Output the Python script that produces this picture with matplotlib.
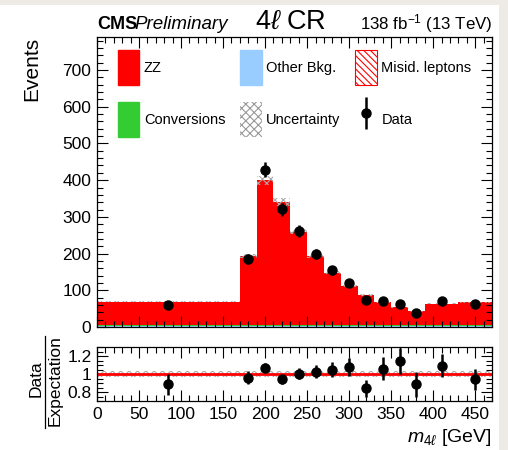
import numpy as np
import matplotlib
matplotlib.use("Agg")
import matplotlib.pyplot as plt
from matplotlib.patches import Patch, Rectangle
from matplotlib.lines import Line2D
from matplotlib.container import ErrorbarContainer
from matplotlib.legend_handler import HandlerErrorbar
from matplotlib.ticker import MultipleLocator

plt.rcParams["font.family"] = ["Liberation Sans", "DejaVu Sans"]
plt.rcParams["mathtext.fontset"] = "custom"
plt.rcParams["mathtext.rm"] = "Liberation Sans"
plt.rcParams["mathtext.it"] = "Liberation Sans:italic"
plt.rcParams["mathtext.bf"] = "Liberation Sans:bold"
plt.rcParams["hatch.linewidth"] = 0.8

# m4l binning (GeV) and per-bin yields
edges = [0, 170, 190, 210, 230, 250, 270, 290, 310, 330, 350, 370, 390, 430, 470]
zz = [62.5, 186.5, 393.5, 334.5, 253.5, 186.5, 141.5, 105.5, 80.5, 60.5, 47.5, 36.5, 57.5, 60.5]
other_bkg = [4.0, 4.0, 4.0, 4.0, 4.0, 4.0, 4.0, 4.0, 4.0, 4.0, 4.0, 4.0, 4.0, 4.0]
conversions = [0.5, 0.5, 0.5, 0.5, 0.5, 0.5, 0.5, 0.5, 0.5, 0.5, 0.5, 0.5, 0.5, 0.5]
misid = [2.0, 2.0, 2.0, 2.0, 2.0, 2.0, 2.0, 2.0, 2.0, 2.0, 2.0, 2.0, 2.0, 2.0]
rel_unc = [0.03, 0.03, 0.03, 0.03, 0.03, 0.03, 0.03, 0.03, 0.03, 0.03, 0.03, 0.03, 0.03, 0.03]
data_x = [85, 180, 200, 220, 240, 260, 280, 300, 320, 340, 360, 380, 410, 450]
data_y = [61, 185, 428, 321, 261, 198, 155, 121, 73, 71, 62, 38, 70, 63]

edges = np.array(edges, dtype=float)
zz = np.array(zz)
other_bkg = np.array(other_bkg)
conversions = np.array(conversions)
misid = np.array(misid)
rel_unc = np.array(rel_unc)
data_y = np.array(data_y, dtype=float)
data_err = np.sqrt(data_y)

RED = "#ff0000"
BLUE = "#99ccff"
GREEN = "#33cc33"

W, H = 508, 450
fig = plt.figure(figsize=(W / 100, H / 100), dpi=100)
fig.patch.set_facecolor("#eeebe6")
fig.add_artist(Rectangle((0, 0), 499 / W, 445 / H, transform=fig.transFigure,
                         facecolor="white", edgecolor="none", zorder=-10))

ax = fig.add_axes([97 / W, 1 - 327 / H, 395 / W, 290 / H])
rax = fig.add_axes([97 / W, 1 - 401 / H, 395 / W, 54 / H])

# stacked expectation
base = np.zeros_like(zz)
ax.stairs(base + other_bkg, edges, baseline=base, fill=True, color=BLUE, lw=0)
base = base + other_bkg
ax.stairs(base + conversions, edges, baseline=base, fill=True, color=GREEN, lw=0)
base = base + conversions
ax.stairs(base + misid, edges, baseline=base, fill=True, facecolor="#f4c8d8",
          edgecolor=RED, hatch="\\\\\\\\", lw=0)
base = base + misid
ax.stairs(base + zz, edges, baseline=base, fill=True, color=RED, lw=0)
total = base + zz

# uncertainty on the expectation
ax.stairs(total * (1 + rel_unc), edges, baseline=total * (1 - rel_unc), fill=True,
          facecolor="none", edgecolor="#aaaaaa", hatch="xxxx", lw=0)

data_cont = ax.errorbar(data_x, data_y, yerr=data_err, fmt="o", color="black",
                        ms=6.5, elinewidth=1.8, capsize=0, zorder=5)

ax.set_xlim(0, 470)
ax.set_ylim(0, 790)
ax.yaxis.set_major_locator(MultipleLocator(100))
ax.yaxis.set_minor_locator(MultipleLocator(20))
ax.xaxis.set_major_locator(MultipleLocator(50))
ax.xaxis.set_minor_locator(MultipleLocator(10))
ax.tick_params(labelbottom=False)
ax.set_ylabel("Events", loc="top", fontsize=15, labelpad=15)

# ratio panel
rax.stairs(1 + rel_unc, edges, baseline=1 - rel_unc, fill=True,
           facecolor="none", edgecolor="#aaaaaa", hatch="xxxx", lw=0)
rax.axhline(1.0, color=RED, lw=2)
rax.errorbar(data_x, data_y / total, yerr=data_err / total, fmt="o",
             color="black", ms=6.5, elinewidth=1.8, capsize=0, zorder=5)
rax.set_xlim(0, 470)
rax.set_ylim(0.7, 1.3)
rax.set_yticks([0.8, 1.0, 1.2])
rax.set_yticklabels(["0.8", "1", "1.2"])
rax.yaxis.set_minor_locator(MultipleLocator(0.05))
rax.xaxis.set_major_locator(MultipleLocator(50))
rax.xaxis.set_minor_locator(MultipleLocator(10))

for a in (ax, rax):
    a.tick_params(which="both", direction="in", top=True, right=True,
                  labelsize=12.5, pad=4)
    a.tick_params(which="major", length=8, width=0.8)
    a.tick_params(which="minor", length=4, width=0.8)
    for s in a.spines.values():
        s.set_linewidth(0.9)

# ratio axis title drawn as a stacked fraction
fig.text(36 / W, 1 - 379 / H, "Data", rotation=90, ha="center", va="center",
         fontsize=12.5)
fig.text(55 / W, 1 - 381 / H, "Expectation", rotation=90, ha="center", va="center",
         fontsize=12.5)
fig.add_artist(Line2D([44.5 / W, 44.5 / W], [1 - 336 / H, 1 - 428 / H],
                      transform=fig.transFigure, color="black", lw=0.9))
fig.text(492 / W, 1 - 437 / H, r"$m_{4\ell}$ [GeV]", ha="right", va="center",
         fontsize=14)

# header
fig.text(97 / W, 1 - 29 / H, "CMS", fontsize=13, fontweight="bold", va="baseline")
fig.text(134 / W, 1 - 29 / H, "Preliminary", fontsize=13.5, style="italic",
         va="baseline")
fig.text(291 / W, 1 - 29 / H, r"4$\ell$ CR", fontsize=19.5, ha="center",
         va="baseline")
fig.text(492 / W, 1 - 29 / H, r"138 fb$^{-1}$ (13 TeV)", fontsize=12.2, ha="right",
         va="baseline")

# legend (filled column by column)
h_zz = Patch(facecolor=RED, edgecolor=RED)
h_conv = Patch(facecolor=GREEN, edgecolor=GREEN)
h_other = Patch(facecolor=BLUE, edgecolor=BLUE)
h_unc = Patch(facecolor="white", edgecolor="#999999", hatch="xxxx", lw=0)
h_misid = Patch(facecolor="white", edgecolor=RED, hatch="\\\\\\\\\\", lw=0.8)
handles = [h_zz, h_conv, h_other, h_unc, h_misid, data_cont]
labels = ["ZZ", "Conversions", "Other Bkg.", "Uncertainty", "Misid. leptons", "Data"]
ax.legend(handles, labels, ncol=3, loc="upper left", bbox_to_anchor=(0.052, 0.955),
          frameon=False, fontsize=10.5, handlelength=1.5, handleheight=3.3,
          handletextpad=0.3, columnspacing=1.0, labelspacing=1.2, borderpad=0.0,
          borderaxespad=0,
          handler_map={ErrorbarContainer: HandlerErrorbar(yerr_size=1.1)})

fig.savefig("out.png", dpi=100)
